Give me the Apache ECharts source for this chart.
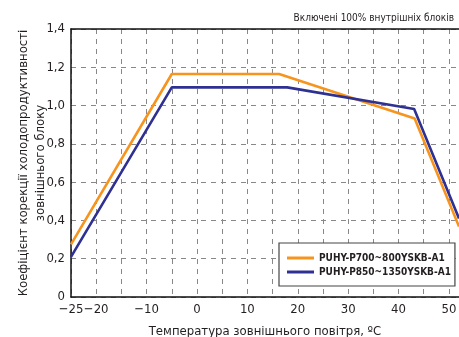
<!DOCTYPE html>
<html><head><meta charset="utf-8">
<script src="https://cdn.jsdelivr.net/npm/echarts@6/dist/echarts.min.js"></script>
<style>html,body{margin:0;padding:0;background:#fff}#c{width:459px;height:337px}</style>
</head><body><div id="c"></div>
<script>
const seriesNames = ['PUHY-P700~800YSKB-A1', 'PUHY-P850~1350YSKB-A1'];
const orangeX = [-25, -5, 16.3, 43.2, 52];
const orangeY = [0.275, 1.165, 1.165, 0.932, 0.368];
const blueX = [-25, -5, 17.9, 43.1, 52];
const blueY = [0.21, 1.095, 1.095, 0.982, 0.41];
const xTickLabels = [-25, -20, -10, 0, 10, 20, 30, 40, 50];
const yTicks = [0, 0.2, 0.4, 0.6, 0.8, 1.0, 1.2, 1.4];
const titleText = 'Включені 100% внутрішніх блоків';
const xName = 'Температура зовнішнього повітря, ºC';
const yName = 'Коефіцієнт корекції холодопродуктивності\nзовнішнього блоку';

const FF = "'Liberation Sans Narrow', 'DejaVu Sans Condensed', sans-serif";
const chart = echarts.init(document.getElementById('c'));
const pairs = (xs, ys) => xs.map((x, i) => [x, ys[i]]);
chart.setOption({
  animation: false,
  title: { text: titleText, right: 0, top: 8,
    textStyle: { fontFamily: FF, fontSize: 10, fontWeight: 'normal', color: '#231f20' } },
  grid: { left: 71, right: 0, top: 29, bottom: 40, outerBoundsMode: 'none', containLabel: false },
  legend: {
    orient: 'vertical', left: 279, top: 243,
    backgroundColor: '#fff', borderColor: '#444', borderWidth: 1.2,
    padding: [10, 4, 9, 8], itemGap: 4, itemWidth: 27, itemHeight: 3,
    icon: 'rect',
    textStyle: { fontFamily: FF, fontSize: 10, fontWeight: 'bold', color: '#231f20' },
    data: seriesNames
  },
  xAxis: [{
    type: 'value', min: -25, max: 52, interval: 5,
    name: xName, nameLocation: 'middle', nameGap: 28, nameMoveOverlap: false,
    nameTextStyle: { fontFamily: FF, fontSize: 13, color: '#231f20' },
    axisLine: { lineStyle: { color: '#111', width: 1.5 } },
    axisTick: { show: false },
    axisLabel: { fontFamily: FF, fontSize: 13, color: '#231f20', margin: 6,
      showMaxLabel: false, showMinLabel: true, hideOverlap: false,
      formatter: v => xTickLabels.indexOf(v) >= 0 ? String(v).replace('-', '\u2212') : '' },
    splitLine: { show: true, lineStyle: { color: '#888', type: [5, 5], width: 1 } }
  }, {
    type: 'value', position: 'top', min: -25, max: 52,
    axisLine: { show: true, onZero: false, lineStyle: { color: '#111', width: 1.5 } },
    axisTick: { show: false }, axisLabel: { show: false }, splitLine: { show: false }
  }],
  yAxis: {
    type: 'value', min: 0, max: 1.4, interval: 0.2,
    name: yName, nameLocation: 'middle', nameGap: 22, nameRotate: 90, nameMoveOverlap: false,
    nameTextStyle: { fontFamily: FF, fontSize: 13, color: '#231f20', lineHeight: 17 },
    axisLine: { show: true, onZero: false, lineStyle: { color: '#111', width: 1.5 } },
    axisTick: { show: false },
    axisLabel: { fontFamily: FF, fontSize: 13, color: '#231f20', margin: 6,
      formatter: v => yTicks.some(t => Math.abs(t - v) < 1e-6) ? (v === 0 ? '0' : v.toFixed(1).replace('.', ',')) : '' },
    splitLine: { show: true, lineStyle: { color: '#888', type: [5, 5], width: 1 } }
  },
  series: [
    { name: seriesNames[0], type: 'line', data: pairs(orangeX, orangeY), symbol: 'none',
      lineStyle: { color: '#f7941d', width: 2.6 }, itemStyle: { color: '#f7941d' } },
    { name: seriesNames[1], type: 'line', data: pairs(blueX, blueY), symbol: 'none',
      lineStyle: { color: '#2e3192', width: 2.6 }, itemStyle: { color: '#2e3192' } }
  ]
});
</script></body></html>
